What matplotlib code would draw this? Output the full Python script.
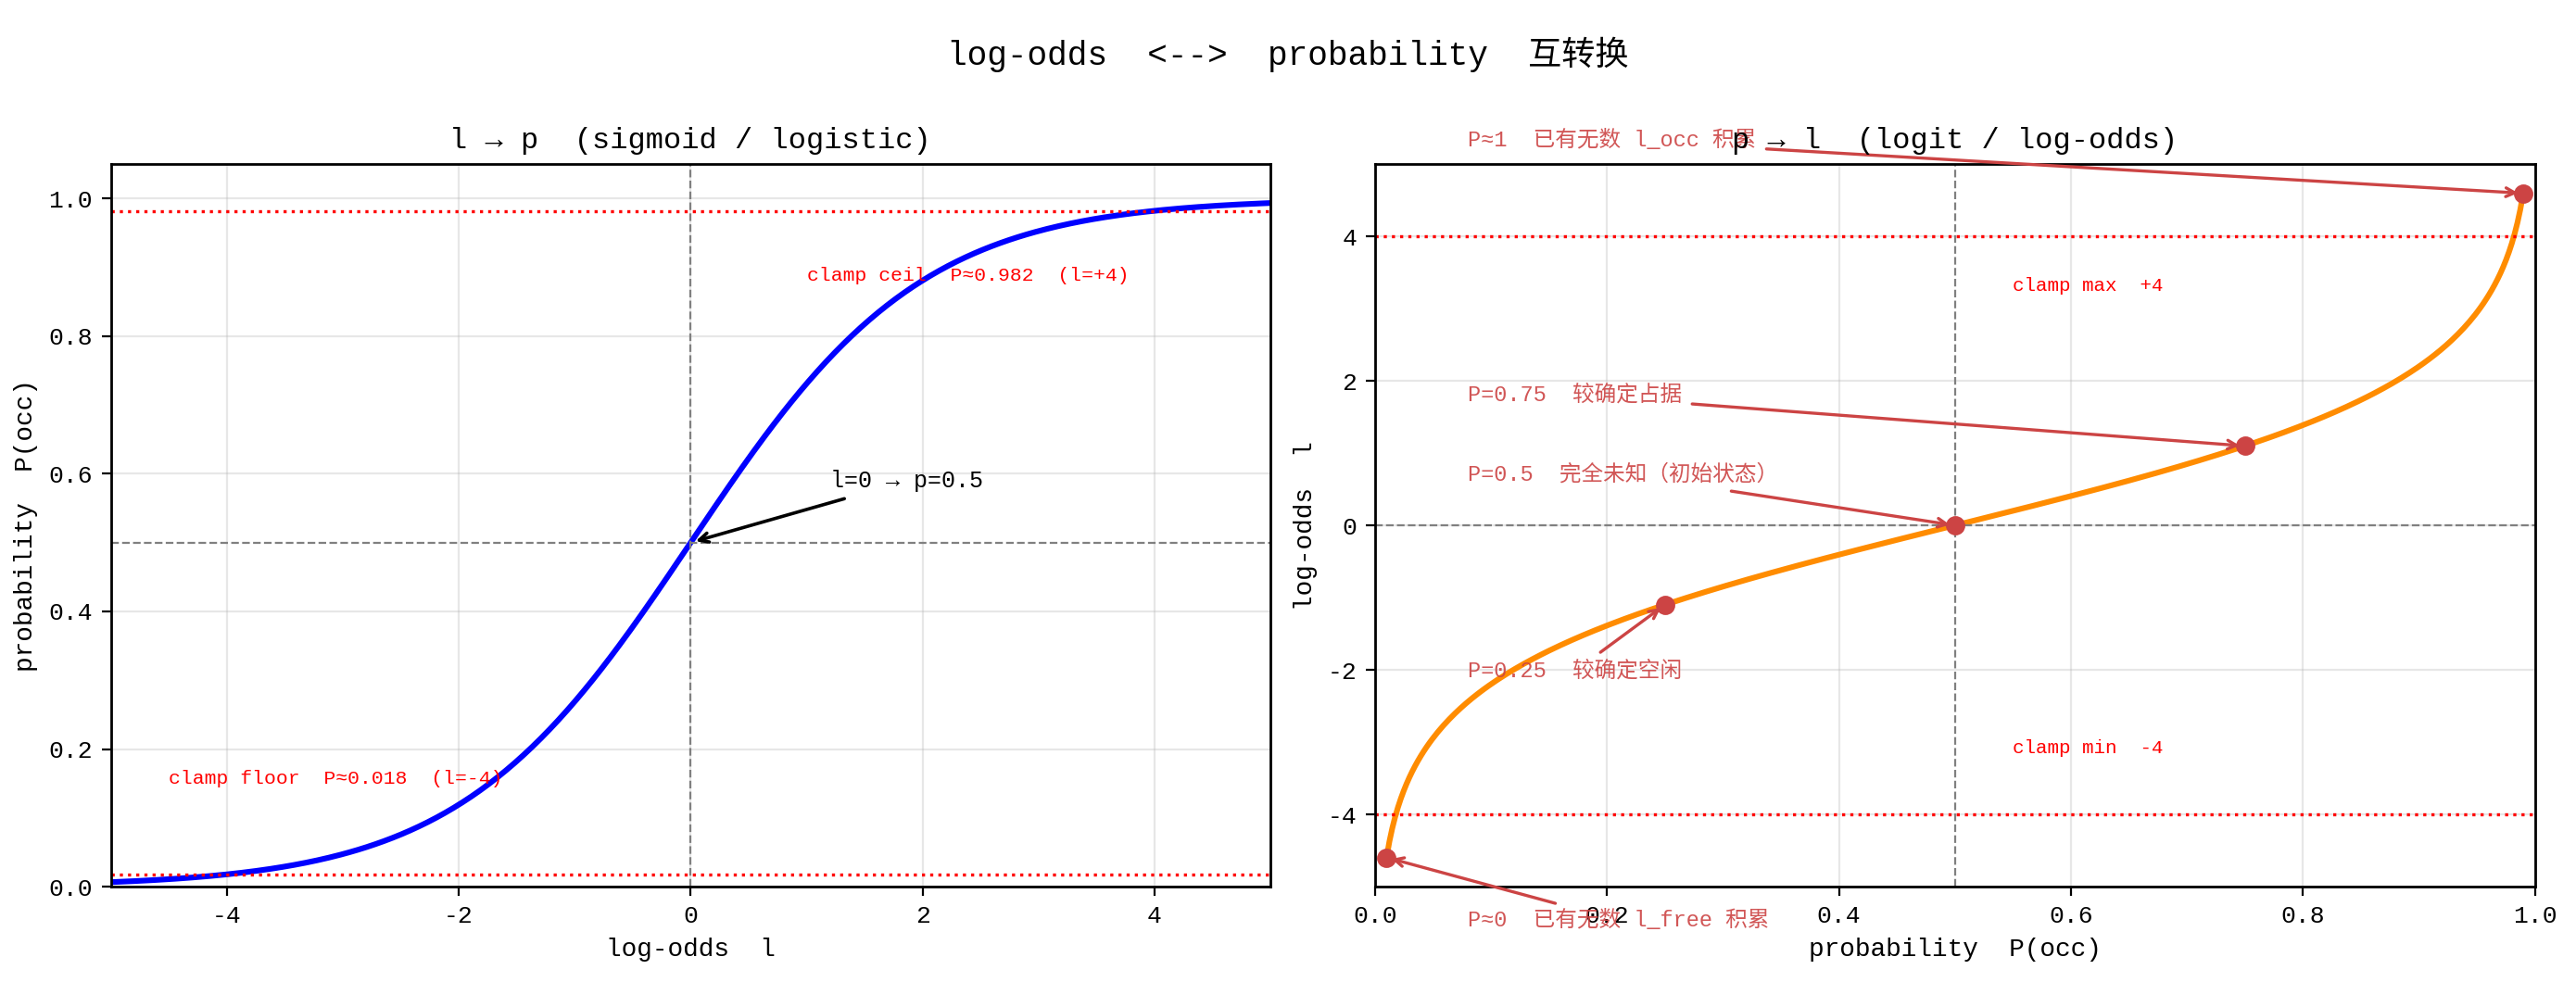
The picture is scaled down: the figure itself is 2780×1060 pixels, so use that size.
import matplotlib
matplotlib.use("Agg")
import matplotlib.pyplot as plt
import numpy as np

plt.rcParams['font.family'] = ['Liberation Mono', 'Noto Sans CJK SC', 'DejaVu Sans']
plt.rcParams['axes.unicode_minus'] = False

# clamp limits on log-odds
clamp_lo = -4
clamp_hi = 4
p_floor = 0.018
p_ceil = 0.982

# marked probabilities on the logit curve
mark_p = [0.01, 0.25, 0.5, 0.75, 0.99]
mark_text = ['P≈0  已有无数 l_free 积累', 'P=0.25  较确定空闲', 'P=0.5  完全未知（初始状态）',
             'P=0.75  较确定占据', 'P≈1  已有无数 l_occ 积累']
text_x = [0.08, 0.08, 0.08, 0.08, 0.08]
text_y = [-5.55, -2.1, 0.62, 1.72, 5.25]

mark_col = '#cc4444'

def sigmoid(l):
    return 1.0 / (1.0 + np.exp(-l))

def logit(p):
    return np.log(p / (1.0 - p))

l = np.linspace(-5, 5, 400)
p = np.linspace(0.01, 0.99, 400)

fig, ax = plt.subplots(1, 2, figsize=(13.9, 5.3), dpi=200)
fig.subplots_adjust(left=0.043, right=0.984, top=0.833, bottom=0.097, wspace=0.09)
fig.suptitle('log-odds  <-->  probability  互转换', fontsize=13, y=0.963)

# left: l -> p
a = ax[0]
a.plot(l, sigmoid(l), color='blue', lw=2.2)
a.axhline(p_ceil, color='red', ls=':', lw=1.2)
a.axhline(p_floor, color='red', ls=':', lw=1.2)
a.axhline(0.5, color='gray', ls='--', lw=0.8)
a.axvline(0, color='gray', ls='--', lw=0.8)
a.annotate('l=0 → p=0.5', xy=(0, 0.5), xytext=(1.2, 0.58), fontsize=9,
           arrowprops=dict(arrowstyle='->', color='black', lw=1.3))
a.text(1.0, 0.88, 'clamp ceil  P≈0.982  (l=+4)', color='red', fontsize=7.7)
a.text(-4.5, 0.15, 'clamp floor  P≈0.018  (l=-4)', color='red', fontsize=7.7)
a.set_xlim(-5, 5)
a.set_ylim(0, 1.05)
a.set_title('l → p  (sigmoid / logistic)', fontsize=11.5)
a.set_xlabel('log-odds  l', fontsize=10)
a.set_ylabel('probability  P(occ)', fontsize=10)
a.grid(True, alpha=0.3)

# right: p -> l
b = ax[1]
b.plot(p, logit(p), color='darkorange', lw=2.2)
b.axhline(clamp_hi, color='red', ls=':', lw=1.2)
b.axhline(clamp_lo, color='red', ls=':', lw=1.2)
b.axhline(0, color='gray', ls='--', lw=0.8)
b.axvline(0.5, color='gray', ls='--', lw=0.8)
for pp, t, tx, ty in zip(mark_p, mark_text, text_x, text_y):
    b.plot(pp, logit(pp), 'o', color=mark_col, ms=6.5)
    b.annotate(t, xy=(pp, logit(pp)), xytext=(tx, ty), fontsize=8.5, color=mark_col, alpha=0.9,
               arrowprops=dict(arrowstyle='->', color=mark_col, lw=1.2))
b.text(0.55, 3.25, 'clamp max  +4', color='red', fontsize=7.5)
b.text(0.55, -3.15, 'clamp min  -4', color='red', fontsize=7.5)
b.set_xlim(0, 1)
b.set_ylim(-5, 5)
b.set_title('p → l  (logit / log-odds)', fontsize=11.5)
b.set_xlabel('probability  P(occ)', fontsize=10)
b.set_ylabel('log-odds  l', fontsize=10)
b.grid(True, alpha=0.3)

for a in ax:
    a.tick_params(labelsize=9.5)
    for s in a.spines.values():
        s.set_linewidth(1.0)

fig.savefig('out.png', dpi=200)
